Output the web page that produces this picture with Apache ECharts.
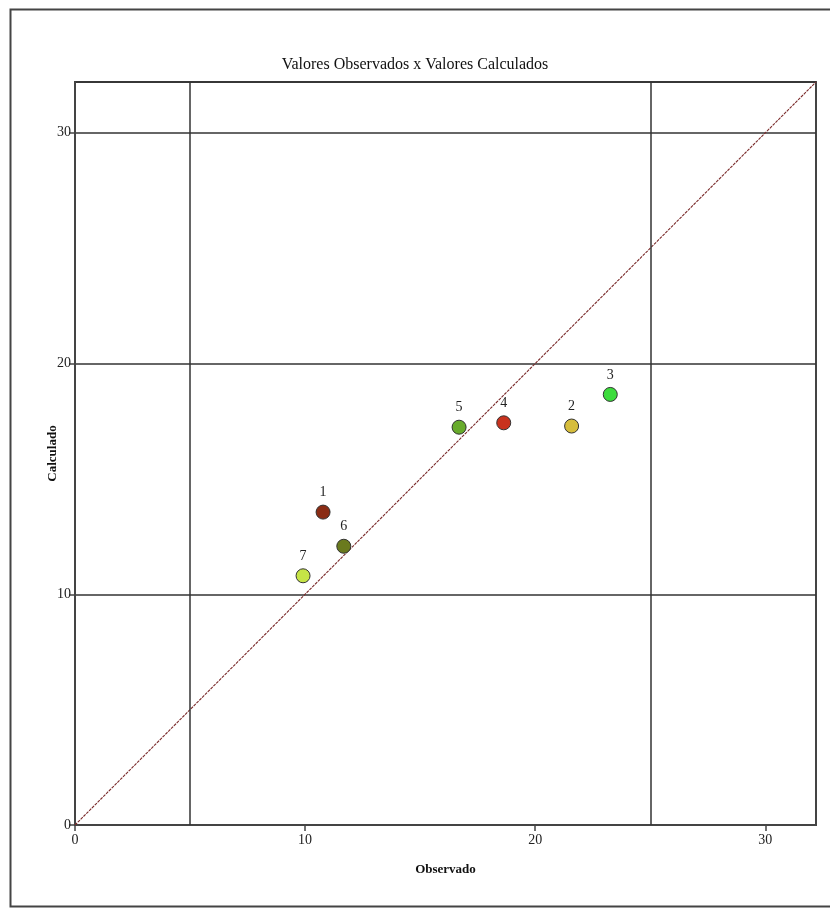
<!DOCTYPE html>
<html>
<head>
<meta charset="utf-8">
<script src="https://cdn.jsdelivr.net/npm/echarts@6/dist/echarts.min.js"></script>
<style>
  html, body { margin: 0; padding: 0; background: #ffffff; }
  #chart { width: 830px; height: 908px; }
</style>
</head>
<body>
<div id="chart"></div>
<script>
// Observed vs. calculated values for each sample point
var pointIds   = ['1', '2', '3', '4', '5', '6', '7'];
var observed   = [10.78, 21.58, 23.26, 18.63, 16.69, 11.68, 9.91];
var calculated = [13.56, 17.29, 18.66, 17.43, 17.24, 12.08, 10.80];
var pointColors = ['#8a2c14', '#d6bd3c', '#3cdc3c', '#c8321e', '#68ab2c', '#6a7a1e', '#c6e446'];

// Axis range and ticks (same scale on both axes)
var axisMax = 32.2;
var tickStep = 10;
var xReferenceLines = [5, 25];   // vertical reference lines
var identityLine = [[0, 0], [axisMax, axisMax]];

var serif = '"Liberation Serif", "DejaVu Serif", serif';

var scatterData = pointIds.map(function (id, i) {
  return {
    name: id,
    value: [observed[i], calculated[i]],
    itemStyle: { color: pointColors[i] }
  };
});

var chart = echarts.init(document.getElementById('chart'), null, { renderer: 'canvas' });

chart.setOption({
  backgroundColor: '#ffffff',
  animation: false,
  title: {
    text: 'Valores Observados x Valores Calculados',
    left: 'center',
    top: 52,
    textStyle: { fontFamily: serif, fontSize: 16, fontWeight: 'normal', color: '#111' }
  },
  graphic: [{
    type: 'rect',
    left: 8, top: 7,
    shape: { width: 840, height: 897 },
    style: { fill: 'none', stroke: '#444', lineWidth: 2 },
    silent: true
  }],
  grid: {
    left: 75, top: 82, right: 14, bottom: 83,
    show: true,
    borderColor: '#444',
    borderWidth: 2
  },
  xAxis: {
    type: 'value',
    min: 0, max: axisMax, interval: tickStep,
    name: 'Observado',
    nameLocation: 'middle',
    nameGap: 38,
    nameTextStyle: { fontFamily: serif, fontSize: 13, fontWeight: 'bold', color: '#111' },
    axisLine: { show: true, lineStyle: { color: '#444', width: 2 } },
    axisTick: { show: true, length: 6, lineStyle: { color: '#444', width: 1.5 } },
    axisLabel: {
      fontFamily: serif, fontSize: 14, color: '#222', margin: 8,
      showMaxLabel: false
    },
    splitLine: { show: false }
  },
  yAxis: {
    type: 'value',
    min: 0, max: axisMax, interval: tickStep,
    name: 'Calculado',
    nameLocation: 'middle',
    nameGap: 16,
    nameMoveOverlap: false,
    nameTextStyle: { fontFamily: serif, fontSize: 13, fontWeight: 'bold', color: '#111' },
    axisLine: { show: true, lineStyle: { color: '#444', width: 2 } },
    axisTick: { show: true, length: 6, lineStyle: { color: '#444', width: 1.5 } },
    axisLabel: {
      fontFamily: serif, fontSize: 14, color: '#222', margin: 4,
      showMaxLabel: false
    },
    splitLine: { show: true, lineStyle: { color: '#333', width: 1.5 } }
  },
  series: [
    {
      // identity line y = x
      type: 'line',
      data: identityLine,
      symbol: 'none',
      silent: true,
      lineStyle: { color: '#7a2a2a', width: 1.1, type: [3, 1] },
      markLine: {
        silent: true,
        symbol: 'none',
        label: { show: false },
        lineStyle: { color: '#333', width: 1.5, type: 'solid' },
        data: xReferenceLines.map(function (v) { return { xAxis: v }; })
      },
      z: 3
    },
    {
      type: 'scatter',
      data: scatterData,
      symbol: 'circle',
      symbolSize: 14,
      itemStyle: { borderColor: '#333', borderWidth: 1, opacity: 1 },
      label: {
        show: true,
        position: 'top',
        distance: 5,
        formatter: '{b}',
        fontFamily: serif,
        fontSize: 14,
        color: '#222'
      },
      z: 5
    }
  ]
});
</script>
</body>
</html>
